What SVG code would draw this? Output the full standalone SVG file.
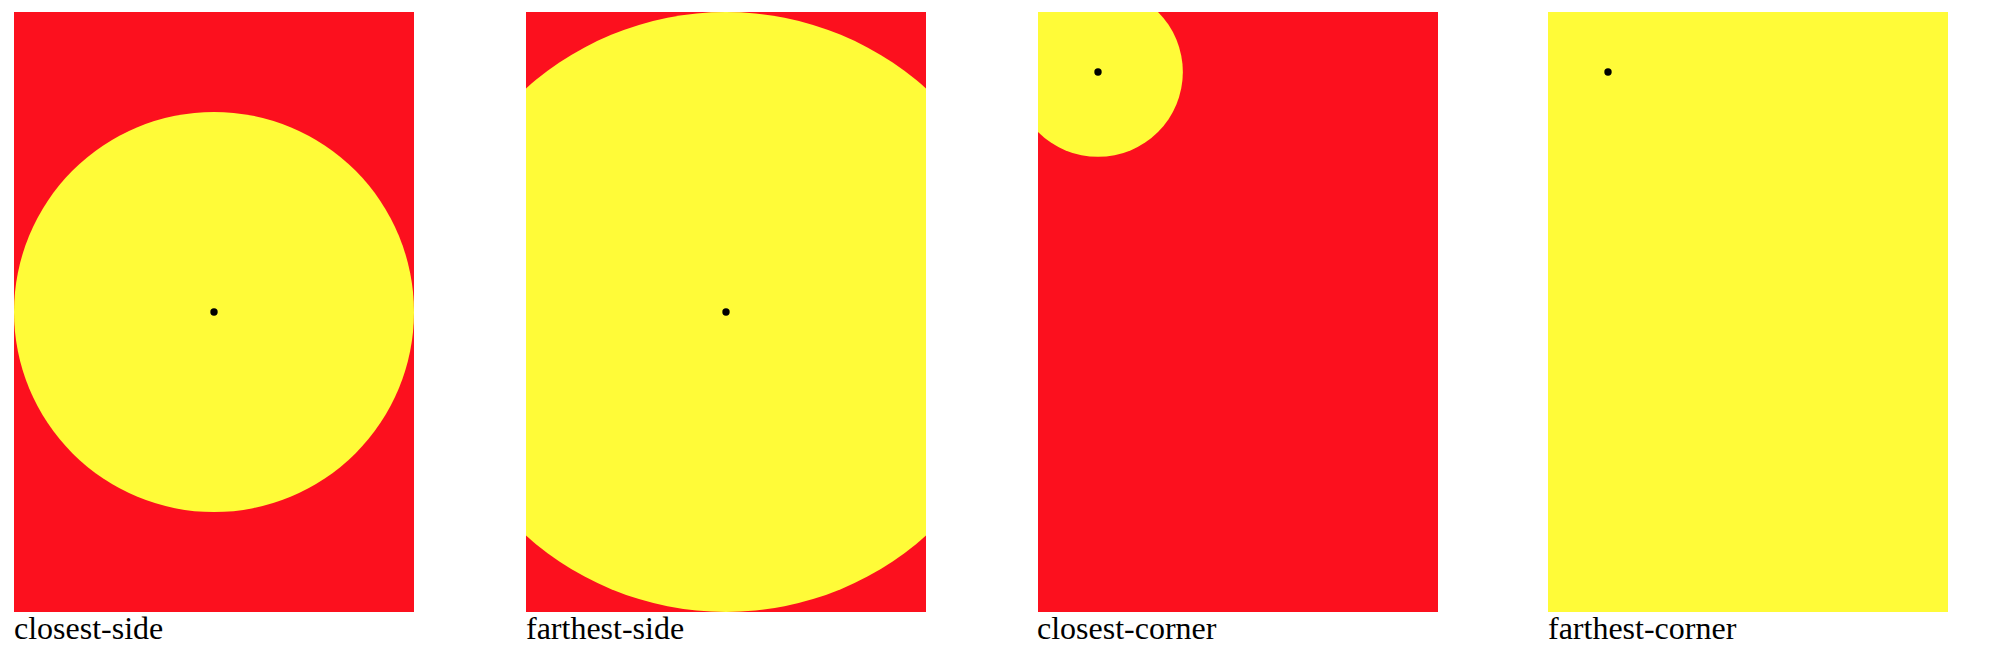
<svg xmlns="http://www.w3.org/2000/svg" width="1990" height="668" viewBox="0 0 1990 668">
  <style>
    .red { fill: #fc101e; }
    .yel { fill: #fffb38; }
    .dot { fill: #000; }
    .lbl { font-family: "Liberation Serif", "Times New Roman", serif; font-size: 32px; fill: #000; }
  </style>
  <defs>
    <clipPath id="c1"><rect x="14" y="12" width="400" height="600"/></clipPath>
    <clipPath id="c2"><rect x="526" y="12" width="400" height="600"/></clipPath>
    <clipPath id="c3"><rect x="1038" y="12" width="400" height="600"/></clipPath>
    <clipPath id="c4"><rect x="1548" y="12" width="400" height="600"/></clipPath>
  </defs>
  <rect width="1990" height="668" fill="#fff"/>
  <g id="closest-side">
    <rect class="red" x="14" y="12" width="400" height="600"/>
    <circle class="yel" cx="214" cy="312" r="200" clip-path="url(#c1)"/>
    <circle class="dot" cx="214" cy="312" r="3.7"/>
    <text class="lbl" x="14" y="639">closest-side</text>
  </g>
  <g id="farthest-side">
    <rect class="red" x="526" y="12" width="400" height="600"/>
    <circle class="yel" cx="726" cy="312" r="300" clip-path="url(#c2)"/>
    <circle class="dot" cx="726" cy="312" r="3.7"/>
    <text class="lbl" x="526" y="639">farthest-side</text>
  </g>
  <g id="closest-corner">
    <rect class="red" x="1038" y="12" width="400" height="600"/>
    <circle class="yel" cx="1098" cy="72" r="84.85" clip-path="url(#c3)"/>
    <circle class="dot" cx="1098" cy="72" r="3.7"/>
    <text class="lbl" x="1037" y="639">closest-corner</text>
  </g>
  <g id="farthest-corner">
    <rect class="yel" x="1548" y="12" width="400" height="600"/>
    <circle class="dot" cx="1608" cy="72" r="3.7"/>
    <text class="lbl" x="1548" y="639">farthest-corner</text>
  </g>
  <g id="connectors"/>
</svg>
